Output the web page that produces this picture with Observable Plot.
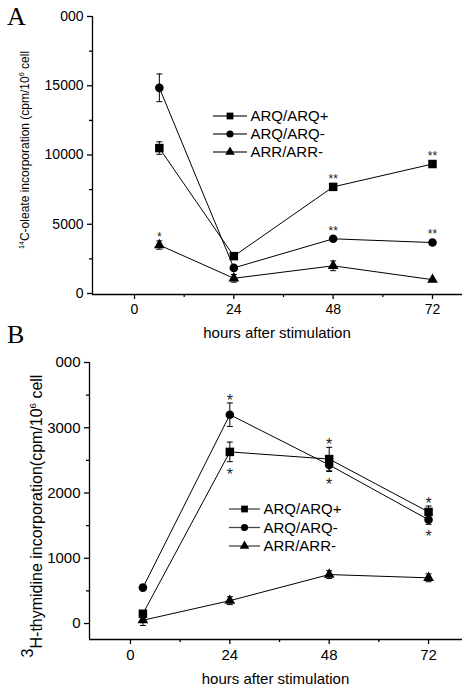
<!DOCTYPE html>
<html><head><meta charset="utf-8">
<script src="https://cdn.jsdelivr.net/npm/d3@7"></script>
<script src="https://cdn.jsdelivr.net/npm/@observablehq/plot@0.6"></script>
<style>
body{margin:0;background:#fff;}
#wrap{position:relative;width:462px;height:690px;overflow:hidden;background:#fff;font-family:Arial,"Liberation Sans",sans-serif;}
.panel{position:absolute;left:0;}
.letter{position:absolute;left:7px;font-family:"Times New Roman","Liberation Serif",serif;font-size:26px;line-height:1;color:#000;}
</style></head><body>
<div id="wrap"></div>
<script>
// ---------- data ----------
const series = ["ARQ/ARQ+", "ARQ/ARQ-", "ARR/ARR-"];
const symbols = ["square", "circle", "triangle"];

// Panel A : 14C-oleate incorporation
const hoursA = [6, 24, 48, 72];
const oleateArqPlus = [10500, 2700, 7700, 9350];
const oleateArqPlusErr = [450, 0, 0, 0];
const oleateArqMinus = [14850, 1850, 3950, 3680];
const oleateArqMinusErr = [1000, 0, 0, 0];
const oleateArrMinus = [3500, 1100, 2000, 1000];
const oleateArrMinusErr = [300, 280, 350, 0];
const starsA = [
  {series: "ARR/ARR-", hour: 6, side: "above", text: "*"},
  {series: "ARQ/ARQ+", hour: 48, side: "above", text: "**"},
  {series: "ARQ/ARQ+", hour: 72, side: "above", text: "**"},
  {series: "ARQ/ARQ-", hour: 48, side: "above", text: "**"},
  {series: "ARQ/ARQ-", hour: 72, side: "above", text: "**"}
];
const yTicksA = [0, 5000, 10000, 15000, 20000];
const yTickLabelsA = ["0", "5000", "10000", "15000", "000"];
const yMinorA = [2500, 7500, 12500, 17500];

// Panel B : 3H-thymidine incorporation
const hoursB = [3, 24, 48, 72];
const thyArqPlus = [150, 2630, 2520, 1710];
const thyArqPlusErr = [0, 150, 180, 90];
const thyArqMinus = [550, 3200, 2430, 1590];
const thyArqMinusErr = [0, 180, 100, 70];
const thyArrMinus = [50, 350, 750, 700];
const thyArrMinusErr = [80, 60, 60, 60];
const starsB = [
  {series: "ARQ/ARQ-", hour: 24, side: "above", text: "*"},
  {series: "ARQ/ARQ+", hour: 24, side: "below", text: "*"},
  {series: "ARQ/ARQ+", hour: 48, side: "above", text: "*"},
  {series: "ARQ/ARQ-", hour: 48, side: "below", text: "*"},
  {series: "ARQ/ARQ+", hour: 72, side: "above", text: "*"},
  {series: "ARQ/ARQ-", hour: 72, side: "below", text: "*"}
];
const yTicksB = [0, 1000, 2000, 3000, 4000];
const yTickLabelsB = ["0", "1000", "2000", "3000", "000"];
const yMinorB = [500, 1500, 2500, 3500];

const xTicks = [0, 24, 48, 72];
const xMinor = [12, 36, 60];
const xTitle = "hours after stimulation";
const yLabelA = [{t: "14", small: true}, {t: "C-oleate incorporation (cpm/10"}, {t: "6", small: true}, {t: " cell"}];
const yLabelB = [{t: "3", raise: true}, {t: "H-thymidine incorporation(cpm/10"}, {t: "6", small: true}, {t: " cell"}];

// ---------- helpers ----------
function buildRows(hours, valueLists, errLists) {
  const rows = [];
  series.forEach((s, si) => hours.forEach((h, i) => rows.push({series: s, hour: h, value: valueLists[si][i], err: errLists[si][i]})));
  return rows;
}
const capSymbol = {draw(ctx, size) { const w = Math.sqrt(size / Math.PI); ctx.moveTo(-w, 0); ctx.lineTo(w, 0); }};
const FONT = 'Arial, "Liberation Sans", sans-serif';

function panel(cfg) {
  const {rows, stars, xDomain, yDomain, yTicks, yTickLabels, yMinor, marginLeft, marginTop, axisBottom,
         tickFont, starFont, starAbove, starBelow, starUseErr, radii, legend, yLabel, titleY} = cfg;
  const H = 345;
  const errRows = rows.filter(d => d.err > 0).map(d => ({...d, lo: d.value - d.err, hi: d.value + d.err}));
  const capRows = errRows.flatMap(d => [{hour: d.hour, y: d.lo}, {hour: d.hour, y: d.hi}]);
  const starRows = stars.map(s => {
    const r = rows.find(d => d.series === s.series && d.hour === s.hour);
    const off = starUseErr ? r.err : 0;
    return {...s, y: s.side === "above" ? r.value + off : r.value - off};
  });
  const svg = Plot.plot({
    width: 462, height: H,
    marginLeft, marginRight: 0, marginTop, marginBottom: H - axisBottom,
    x: {domain: xDomain},
    y: {domain: yDomain},
    style: {fontFamily: FONT, fontSize: tickFont + "px", background: "transparent", color: "black", overflow: "visible"},
    marks: [
      Plot.ruleX([xDomain[0]], {stroke: "black", strokeWidth: 1.3}),
      Plot.ruleY([yDomain[0]], {stroke: "black", strokeWidth: 1.3}),
      Plot.axisY({ticks: yTicks, tickSize: 5, tickPadding: 4, tickFormat: d => yTickLabels[yTicks.indexOf(d)], label: null, strokeWidth: 1.3}),
      Plot.axisY({ticks: yMinor, tickSize: 3, tickFormat: () => "", label: null, strokeWidth: 1.3}),
      Plot.axisX({ticks: xTicks, tickSize: 5, tickPadding: 5, tickFormat: d => String(d), label: null, strokeWidth: 1.3}),
      Plot.axisX({ticks: xMinor, tickSize: 3, tickFormat: () => "", label: null, strokeWidth: 1.3}),
      Plot.ruleX(errRows, {x: "hour", y1: "lo", y2: "hi", stroke: "black", strokeWidth: 1}),
      Plot.dot(capRows, {x: "hour", y: "y", symbol: capSymbol, r: 3, stroke: "black", strokeWidth: 1, fill: "none"}),
      Plot.line(rows, {x: "hour", y: "value", z: "series", stroke: "black", strokeWidth: 1}),
      ...series.map((s, i) => Plot.dot(rows.filter(d => d.series === s), {x: "hour", y: "value", symbol: symbols[i], r: radii[i], fill: "black", stroke: "none"})),
      Plot.text(starRows.filter(d => d.side === "above"), {x: "hour", y: "y", text: "text", dy: starAbove, fontSize: starFont, fill: "#222"}),
      Plot.text(starRows.filter(d => d.side === "below"), {x: "hour", y: "y", text: "text", dy: starBelow, fontSize: starFont, fill: "#222"})
    ]
  });
  const sel = d3.select(svg);
  // x title
  sel.append("text").attr("x", (marginLeft + 462) / 2).attr("y", titleY).attr("text-anchor", "middle")
    .attr("font-family", FONT).attr("font-size", 15).attr("fill", "black").text(xTitle);
  // y label
  const t = sel.append("text").attr("transform", `translate(${yLabel.x},${yLabel.y}) rotate(-90)`)
    .attr("text-anchor", "middle").attr("font-family", FONT).attr("font-size", yLabel.size).attr("fill", "black");
  let shift = 0;
  yLabel.parts.forEach(p => {
    let target = 0, fs = yLabel.size;
    if (p.small) { target = -yLabel.size * 0.4; fs = yLabel.size * 0.6; }
    if (p.raise) { target = -yLabel.size * 0.55; }
    t.append("tspan").attr("dy", target - shift).attr("font-size", fs).text(p.t);
    shift = target;
  });
  // legend
  const g = sel.append("g").attr("text-anchor", "start");
  series.forEach((s, i) => {
    const y = legend.y0 + i * legend.dy;
    g.append("line").attr("x1", legend.x0).attr("x2", legend.x0 + legend.len).attr("y1", y).attr("y2", y)
      .attr("stroke", "#444").attr("stroke-width", 1.3);
    const sym = [d3.symbolSquare, d3.symbolCircle, d3.symbolTriangle][i];
    g.append("path").attr("d", d3.symbol(sym, [46, 40, 40][i])()).attr("transform", `translate(${legend.x0 + legend.len / 2},${y})`).attr("fill", "black");
    g.append("text").attr("x", legend.x0 + legend.len + 3.5).attr("y", y).attr("dy", "0.36em").attr("text-anchor", "start")
      .attr("font-family", FONT).attr("font-size", 15).attr("fill", "black").text(s);
  });
  svg.style.display = "block";
  return svg;
}

const wrap = document.getElementById("wrap");

const rowsA = buildRows(hoursA, [oleateArqPlus, oleateArqMinus, oleateArrMinus], [oleateArqPlusErr, oleateArqMinusErr, oleateArrMinusErr]);
const svgA = panel({
  rows: rowsA, stars: starsA, xDomain: [-10.15, 79.25], yDomain: [-70, 20000],
  yTicks: yTicksA, yTickLabels: yTickLabelsA, yMinor: yMinorA,
  marginLeft: 92, marginTop: 16, axisBottom: 294, tickFont: 14,
  starFont: 12, starAbove: -8, starBelow: 12, starUseErr: false, radii: [4.8, 4.3, 4.0],
  legend: {x0: 213, y0: 116, dy: 18, len: 34},
  yLabel: {x: 29, y: 150, size: 12, parts: yLabelA},
  titleY: 338
});
const divA = document.createElement("div"); divA.className = "panel"; divA.style.top = "0px"; divA.appendChild(svgA); wrap.appendChild(divA);

const rowsB = buildRows(hoursB, [thyArqPlus, thyArqMinus, thyArrMinus], [thyArqPlusErr, thyArqMinusErr, thyArrMinusErr]);
const svgB = panel({
  rows: rowsB, stars: starsB, xDomain: [-9.9, 80.2], yDomain: [-245, 4000],
  yTicks: yTicksB, yTickLabels: yTickLabelsB, yMinor: yMinorB,
  marginLeft: 89, marginTop: 17, axisBottom: 294, tickFont: 15,
  starFont: 16, starAbove: -2, starBelow: 13, starUseErr: true, radii: [4.8, 4.3, 4.0],
  legend: {x0: 229, y0: 164, dy: 18.5, len: 31},
  yLabel: {x: 42, y: 171, size: 16, parts: yLabelB},
  titleY: 339
});
const divB = document.createElement("div"); divB.className = "panel"; divB.style.top = "345px"; divB.appendChild(svgB); wrap.appendChild(divB);

for (const [txt, top] of [["A", 4], ["B", 322]]) {
  const d = document.createElement("div"); d.className = "letter"; d.style.top = top + "px"; d.textContent = txt; wrap.appendChild(d);
}
</script>
</body></html>
